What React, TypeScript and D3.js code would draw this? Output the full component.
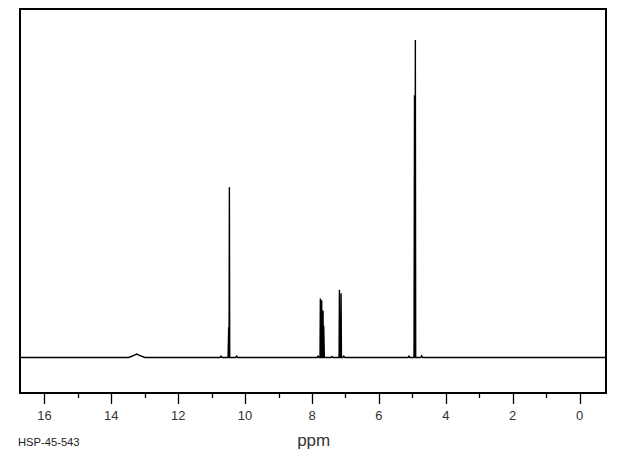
import React from "react";
import * as d3 from "d3";

// Peak list (ppm, relative intensity, half-width in ppm)
const peakPpm = [13.24, 10.72, 10.49, 10.47, 10.25, 7.82, 7.75, 7.71, 7.67, 7.65, 7.4, 7.18, 7.15, 7.13, 7.05, 5.1, 4.935, 4.91, 4.72];
const peakHeight = [1.1, 0.4, 9.5, 53.6, 0.4, 0.4, 18.6, 18.0, 14.8, 10.0, 0.3, 21.3, 12.6, 20.2, 0.4, 0.4, 82.6, 100, 0.5];
const peakWidth = [0.24, 0.03, 0.02, 0.01, 0.03, 0.03, 0.01, 0.01, 0.01, 0.02, 0.03, 0.01, 0.02, 0.01, 0.03, 0.03, 0.015, 0.01, 0.03];

const tickValues = [16, 15, 14, 13, 12, 11, 10, 9, 8, 7, 6, 5, 4, 3, 2, 1, 0];
const tickLabels = ["16", "14", "12", "10", "8", "6", "4", "2", "0"];
const xDomain = [16.73, -0.79];
const axisTitle = "ppm";
const sampleId = "HSP-45-543";

const W = 620;
const H = 455;
const frame = { left: 20, top: 9, right: 606, bottom: 393 };
const baseY = 357.5;
const topY = 40;

export default function App() {
  const x = d3.scaleLinear().domain(xDomain).range([frame.left, frame.right]);
  const y = d3.scaleLinear().domain([0, 100]).range([baseY, topY]);

  const idx = d3.range(peakPpm.length).sort((a, b) => peakPpm[b] - peakPpm[a]);
  const pts: [number, number][] = [[xDomain[0], 0]];
  idx.forEach((i) => {
    pts.push([peakPpm[i] + peakWidth[i], 0]);
    if (peakWidth[i] > 0.1) {
      pts.push([peakPpm[i] + peakWidth[i] * 0.35, peakHeight[i] * 0.6]);
      pts.push([peakPpm[i], peakHeight[i]]);
      pts.push([peakPpm[i] - peakWidth[i] * 0.35, peakHeight[i] * 0.6]);
    } else {
      pts.push([peakPpm[i], peakHeight[i]]);
    }
    pts.push([peakPpm[i] - peakWidth[i], 0]);
  });
  pts.push([xDomain[1], 0]);

  const line = d3
    .line<[number, number]>()
    .x((d) => x(d[0]))
    .y((d) => y(d[1]));

  return (
    <svg
      width={W}
      height={H}
      style={{ position: "absolute", left: 0, top: 0, background: "#fff" }}
      fontFamily="'Liberation Sans', Arial, sans-serif"
    >
      <rect x={0} y={0} width={W} height={H} fill="#fff" />
      <path d={line(pts) || ""} fill="none" stroke="#000" strokeWidth={1.4} strokeLinejoin="miter" />
      <rect
        x={frame.left}
        y={frame.top}
        width={frame.right - frame.left}
        height={frame.bottom - frame.top}
        fill="none"
        stroke="#000"
        strokeWidth={2}
      />
      {tickValues.map((t) => {
        const major = t % 2 === 0;
        return (
          <line
            key={t}
            x1={Math.round(x(t)) + 0.5}
            x2={Math.round(x(t)) + 0.5}
            y1={frame.bottom}
            y2={frame.bottom + (major ? 11 : 5)}
            stroke="#000"
            strokeWidth={1.3}
          />
        );
      })}
      {tickLabels.map((l) => (
        <text
          key={l}
          x={x(+l)}
          y={420}
          textAnchor="middle"
          fontSize={13}
          fill="#333"
        >
          {l}
        </text>
      ))}
      <text x={x(7.95)} y={446} textAnchor="middle" fontSize={17} fill="#333">
        {axisTitle}
      </text>
      <text x={18} y={446} fontSize={11.2} fill="#222">
        {sampleId}
      </text>
    </svg>
  );
}
